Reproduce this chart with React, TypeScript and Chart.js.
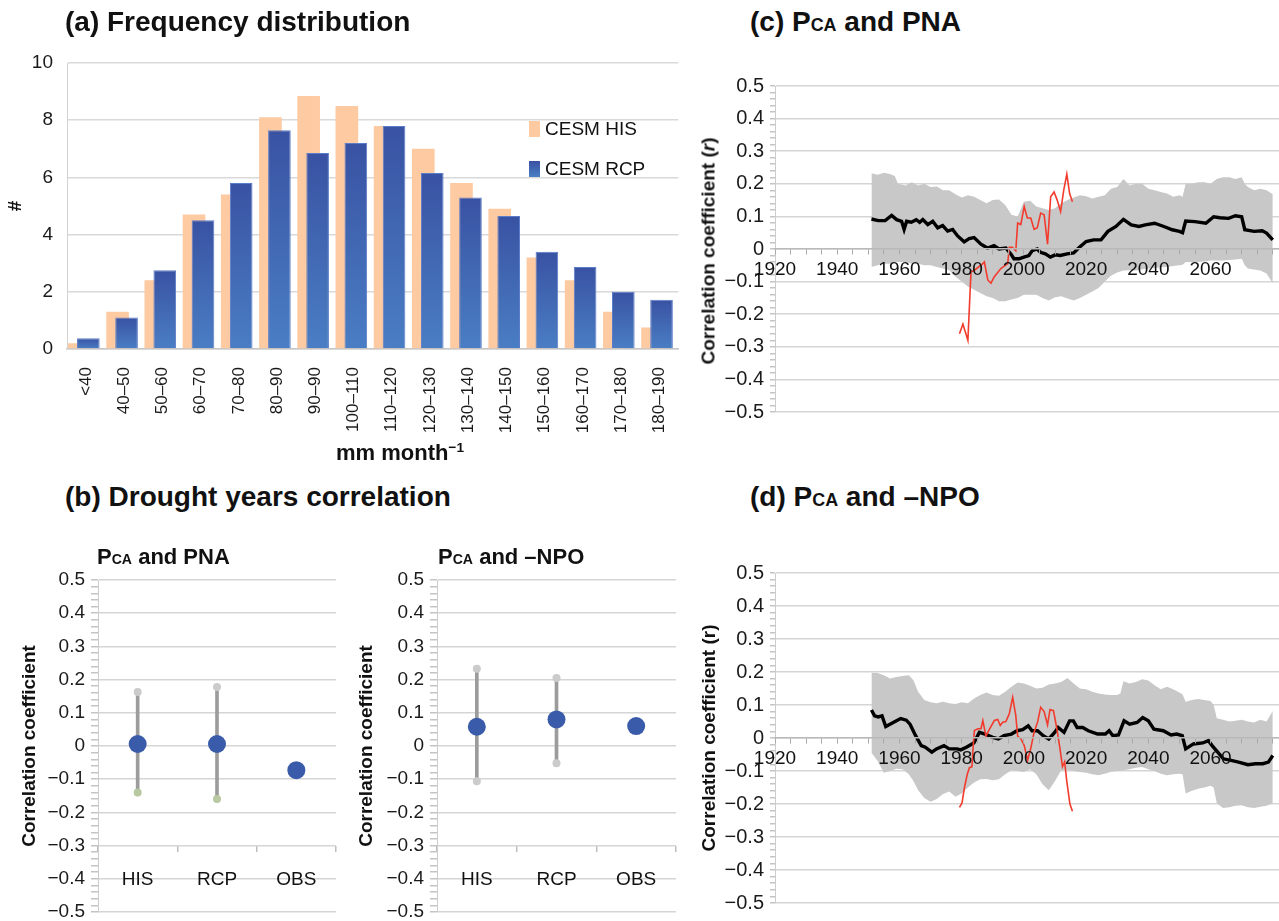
import React, { useEffect, useRef } from 'react';
import { Chart, registerables } from 'chart.js';

Chart.register(...registerables);

const FONT = '"Liberation Sans", Arimo, Arial, Helvetica, sans-serif';
Chart.defaults.font.family = FONT;
Chart.defaults.color = '#1a1a1a';

// ---------------- (a) Frequency distribution ----------------
const binLabels = ['<40', '40–50', '50–60', '60–70', '70–80', '80–90', '90–90', '100–110', '110–120', '120–130', '130–140', '140–150', '150–160', '160–170', '170–180', '180–190'];
const hisCounts = [0.2, 1.3, 2.4, 4.7, 5.4, 8.1, 8.85, 8.5, 7.8, 7.0, 5.8, 4.9, 3.2, 2.4, 1.3, 0.75];
const rcpCounts = [0.38, 1.1, 2.75, 4.5, 5.8, 7.65, 6.85, 7.2, 7.8, 6.15, 5.3, 4.65, 3.4, 2.87, 2.0, 1.72];

// ---------------- (b) Drought years correlation ----------------
const groupLabels = ['HIS', 'RCP', 'OBS'];
const pnaMean = [0.006, 0.006, -0.073];
const pnaRange = [[-0.15, 0.165], [-0.16, 0.178], null];
const pnaTopDot = [0.163, 0.178, null];
const pnaLowDot = [-0.14, -0.16, null];
const npoMean = [0.058, 0.08, 0.06];
const npoRange = [[-0.11, 0.236], [-0.052, 0.205], null];
const npoTopDot = [0.233, 0.205, null];
const npoLowDot = [-0.106, -0.052, 0.072];

// ---------------- (c) PCA and PNA ----------------
const cMeanYears = [1951, 1953.2, 1955.4, 1957.5, 1959.1, 1960.7, 1961.5, 1962.3, 1963.8, 1965.4, 1966.5, 1967.5, 1969.1, 1970.7, 1972.3, 1973.9, 1975.5, 1977.1, 1978.7, 1980.8, 1982.4, 1984, 1986.2, 1988.3, 1990.4, 1992, 1994.2, 1995.8, 1996.8, 1998.4, 2000, 2001.6, 2002.7, 2004.3, 2005.3, 2006.9, 2008.5, 2010.1, 2011.7, 2013.9, 2016, 2017.6, 2020, 2022.4, 2024.8, 2027, 2029.6, 2032, 2034.5, 2037, 2039, 2042, 2045, 2047.7, 2050, 2051, 2052, 2055, 2058.5, 2061, 2063, 2065.8, 2068, 2070, 2071, 2074, 2076.6, 2078, 2080];
const cMean = [0.092, 0.087, 0.087, 0.103, 0.09, 0.085, 0.06, 0.085, 0.082, 0.09, 0.082, 0.09, 0.075, 0.085, 0.065, 0.072, 0.055, 0.06, 0.04, 0.022, 0.032, 0.035, 0.015, 0.003, 0.01, 0, 0.003, -0.015, -0.03, -0.03, -0.025, -0.02, -0.005, 0, -0.01, -0.015, -0.025, -0.018, -0.02, -0.015, -0.012, 0.003, 0.023, 0.028, 0.028, 0.054, 0.069, 0.091, 0.074, 0.069, 0.074, 0.079, 0.069, 0.059, 0.054, 0.05, 0.086, 0.084, 0.079, 0.099, 0.096, 0.094, 0.102, 0.099, 0.059, 0.054, 0.056, 0.049, 0.028];
const cBandYears = [1951, 1953, 1955, 1957, 1958.5, 1959.5, 1962, 1964, 1966, 1968, 1970, 1972, 1974, 1976, 1978, 1980, 1982, 1984, 1986, 1988, 1990, 1992, 1994, 1996, 1998, 2000, 2002, 2004, 2006, 2008, 2010, 2012, 2014, 2016, 2018, 2020, 2022, 2024, 2026, 2028, 2030, 2032, 2034, 2036, 2038, 2040, 2042, 2044, 2046, 2048, 2050, 2051, 2052, 2054, 2056, 2058, 2060, 2062, 2064, 2066, 2068, 2070, 2071, 2072, 2074, 2076, 2078, 2080];
const cUpper = [0.232, 0.228, 0.234, 0.23, 0.224, 0.2, 0.195, 0.205, 0.195, 0.2, 0.19, 0.192, 0.18, 0.18, 0.168, 0.158, 0.165, 0.16, 0.15, 0.14, 0.15, 0.152, 0.135, 0.105, 0.1, 0.145, 0.148, 0.13, 0.125, 0.12, 0.125, 0.14, 0.15, 0.158, 0.165, 0.162, 0.155, 0.16, 0.165, 0.185, 0.19, 0.215, 0.195, 0.2, 0.2, 0.185, 0.18, 0.175, 0.17, 0.16, 0.165, 0.16, 0.2, 0.2, 0.205, 0.205, 0.2, 0.215, 0.22, 0.22, 0.215, 0.22, 0.2, 0.19, 0.18, 0.185, 0.18, 0.168];
const cLower = [-0.055, -0.05, -0.045, -0.045, -0.04, -0.04, -0.04, -0.045, -0.045, -0.05, -0.05, -0.055, -0.06, -0.065, -0.085, -0.1, -0.115, -0.125, -0.135, -0.145, -0.15, -0.16, -0.16, -0.155, -0.15, -0.14, -0.14, -0.14, -0.15, -0.158, -0.148, -0.145, -0.152, -0.158, -0.15, -0.14, -0.13, -0.12, -0.1, -0.082, -0.072, -0.066, -0.065, -0.066, -0.062, -0.06, -0.058, -0.056, -0.055, -0.052, -0.05, -0.048, -0.04, -0.04, -0.04, -0.038, -0.035, -0.035, -0.035, -0.034, -0.032, -0.03, -0.05, -0.06, -0.063, -0.066, -0.075, -0.105];
const cObsYears = [1979.3, 1980.4, 1982, 1983, 1984.1, 1986.8, 1987.3, 1988.4, 1989.4, 1990.5, 1992.6, 1994.8, 1995.3, 1996.3, 1997.4, 1998, 1999, 2000.1, 2001.1, 2002.2, 2003.3, 2004.3, 2005.4, 2006.5, 2007.6, 2008.6, 2009.7, 2010.7, 2011.8, 2012.8, 2013.8, 2014.7, 2015.6];
const cObs = [-0.26, -0.23, -0.28, -0.07, -0.065, -0.045, -0.04, -0.095, -0.105, -0.085, -0.06, -0.045, 0.005, 0.005, -0.005, 0.08, 0.075, 0.13, 0.095, 0.095, 0.06, 0.065, 0.11, 0.105, 0.015, 0.16, 0.175, 0.15, 0.115, 0.18, 0.23, 0.17, 0.145];

// ---------------- (d) PCA and -NPO ----------------
const dMeanYears = [1951, 1952, 1953.2, 1954.4, 1955.6, 1958, 1960.4, 1962.2, 1963.4, 1965.2, 1967, 1968.3, 1970.4, 1971.9, 1974.3, 1976, 1978.5, 1979.7, 1981.5, 1983.9, 1985.7, 1987.5, 1990, 1991.8, 1993.6, 1996, 1997.8, 1999.6, 2001.4, 2002.6, 2004.4, 2006.2, 2008, 2009.9, 2011, 2012.9, 2014.7, 2015.9, 2017.1, 2018.9, 2020.7, 2023.7, 2026.2, 2027.4, 2028.6, 2030.4, 2032.2, 2034, 2036.4, 2038.2, 2040, 2041.8, 2044.8, 2047.3, 2049.1, 2050.9, 2052, 2054.5, 2057.5, 2059.3, 2060.5, 2062.3, 2064.1, 2066.6, 2069, 2072, 2074.4, 2076.8, 2078.6, 2080];
const dMean = [0.085, 0.067, 0.064, 0.067, 0.035, 0.047, 0.059, 0.054, 0.042, 0.007, -0.023, -0.028, -0.043, -0.033, -0.023, -0.033, -0.033, -0.036, -0.028, -0.015, 0.017, 0.012, 0.002, -0.003, 0.007, 0.012, 0.022, 0.025, 0.037, 0.022, 0.022, 0.007, -0.003, 0.017, 0.032, 0.017, 0.052, 0.052, 0.032, 0.032, 0.022, 0.012, 0.012, 0.022, 0.007, 0.009, 0.052, 0.042, 0.047, 0.062, 0.052, 0.027, 0.022, 0.009, 0.012, 0.007, -0.033, -0.018, -0.015, -0.008, -0.023, -0.043, -0.063, -0.068, -0.073, -0.081, -0.078, -0.078, -0.073, -0.053];
const dBandYears = [1951, 1953, 1955, 1957, 1959, 1961, 1963, 1964.5, 1966, 1968, 1970, 1972, 1974, 1976, 1978, 1980, 1982, 1984, 1986, 1988, 1990, 1992, 1994, 1996, 1998, 2000, 2002, 2004, 2006, 2008, 2010, 2012, 2014, 2016, 2018, 2020, 2022, 2024, 2026, 2028, 2030, 2031, 2032, 2034, 2036, 2038, 2040, 2042, 2044, 2046, 2048, 2050, 2051, 2052, 2054, 2056, 2058, 2060, 2061, 2062, 2064, 2066, 2068, 2070, 2072, 2074, 2076, 2078, 2080];
const dUpper = [0.198, 0.197, 0.19, 0.18, 0.185, 0.188, 0.19, 0.175, 0.14, 0.115, 0.108, 0.105, 0.11, 0.105, 0.103, 0.108, 0.105, 0.12, 0.13, 0.138, 0.13, 0.128, 0.14, 0.155, 0.168, 0.165, 0.158, 0.15, 0.152, 0.162, 0.165, 0.17, 0.182, 0.165, 0.15, 0.148, 0.14, 0.135, 0.132, 0.13, 0.13, 0.135, 0.172, 0.165, 0.17, 0.178, 0.174, 0.16, 0.148, 0.155, 0.148, 0.138, 0.132, 0.11, 0.115, 0.118, 0.115, 0.112, 0.1, 0.06, 0.055, 0.05, 0.052, 0.055, 0.05, 0.047, 0.055, 0.05, 0.082];
const dLower = [-0.045, -0.07, -0.105, -0.1, -0.093, -0.095, -0.11, -0.13, -0.158, -0.182, -0.193, -0.185, -0.17, -0.162, -0.178, -0.168, -0.15, -0.135, -0.125, -0.124, -0.128, -0.125, -0.11, -0.098, -0.1, -0.103, -0.095, -0.11, -0.14, -0.158, -0.13, -0.098, -0.096, -0.1, -0.103, -0.105, -0.11, -0.113, -0.108, -0.102, -0.1, -0.1, -0.098, -0.095, -0.09, -0.088, -0.095, -0.1, -0.108, -0.113, -0.11, -0.108, -0.11, -0.168, -0.16, -0.154, -0.15, -0.145, -0.15, -0.198, -0.212, -0.21, -0.205, -0.204, -0.21, -0.212, -0.208, -0.205, -0.198];
const dObsYears = [1979.3, 1980.1, 1980.9, 1981.8, 1982.5, 1983.3, 1983.8, 1984.1, 1985.2, 1986.2, 1986.8, 1987.8, 1988.9, 1990.5, 1991.6, 1992.4, 1993.2, 1994.2, 1995.3, 1996.4, 1997.4, 1998, 1999, 2000.1, 2001.2, 2002.2, 2003.3, 2004.4, 2005.4, 2006.5, 2007.6, 2008.4, 2009.5, 2010.6, 2011.6, 2012.4, 2013.1, 2013.8, 2014.8, 2015.6];
const dObs = [-0.21, -0.197, -0.15, -0.11, -0.09, -0.087, -0.012, 0.023, 0.028, 0.028, 0.053, 0.006, 0.026, 0.053, 0.056, 0.038, 0.048, 0.05, 0.073, 0.123, 0.068, 0.006, -0.002, -0.022, -0.067, -0.032, 0.018, 0.048, 0.093, 0.08, 0.04, 0.086, 0.083, 0.028, -0.032, -0.087, -0.072, -0.132, -0.2, -0.222];

// ---------------- helpers ----------------
const isTenth = (v: number) => Math.abs(v * 10 - Math.round(v * 10)) < 1e-6;
const corrLabel = (v: number) => {
  if (!isTenth(v)) return '';
  const r = Math.round(v * 10);
  if (r === 0) return '0';
  const s = (Math.abs(r) / 10).toFixed(1);
  return r < 0 ? '\u2212' + s : s;
};
const xy = (xs: number[], ys: number[]) => xs.map((x, i) => ({ x, y: ys[i] }));

function corrY(width: number, tickLen: number, pad: number, size: number, title: string | null, titlePad: number) {
  return {
    min: -0.5,
    max: 0.5,
    afterFit: (s: any) => { s.width = width; },
    border: { color: '#cdcdcd', width: 1 },
    grid: {
      color: (c: any) => (c.tick && isTenth(c.tick.value) ? '#d5d5d5' : 'rgba(0,0,0,0)'),
      lineWidth: 1.5,
      tickColor: '#c4c4c4',
      tickLength: tickLen,
    },
    ticks: { stepSize: 0.02, autoSkip: false, padding: pad, font: { size }, color: '#1a1a1a', callback: (v: any) => corrLabel(Number(v)) },
    title: title
      ? { display: true, text: title, font: { size: 19, weight: 'bold' }, color: '#111', padding: { top: titlePad, bottom: 0 } }
      : { display: false },
  };
}

function ChartCanvas(props: { left: number; top: number; width: number; height: number; make: () => any }) {
  const ref = useRef<HTMLCanvasElement>(null);
  useEffect(() => {
    const chart = new Chart(ref.current as HTMLCanvasElement, props.make());
    return () => chart.destroy();
  }, []);
  return (
    <canvas
      ref={ref}
      width={props.width}
      height={props.height}
      style={{ position: 'absolute', left: props.left, top: props.top, width: props.width, height: props.height, display: 'block' }}
    />
  );
}

// ---------------- chart configs ----------------
function freqConfig() {
  const nulls = binLabels.map(() => null);
  const barShape = { categoryPercentage: 0.47, barPercentage: 5.04 };
  const rcpFill = (c: any) => {
    const chart = c.chart;
    const y = chart.scales && chart.scales.y;
    if (c.type !== 'data' || !y || c.raw == null) return '#3d5fae';
    const top = y.getPixelForValue(c.raw);
    const base = y.getPixelForValue(0);
    if (!isFinite(top) || !isFinite(base) || base - top < 1) return '#3d5fae';
    const g = chart.ctx.createLinearGradient(0, top, 0, base);
    g.addColorStop(0, '#3952a3');
    g.addColorStop(1, '#4a7ec4');
    return g;
  };
  return {
    type: 'bar',
    data: {
      labels: binLabels,
      datasets: [
        { label: 'CESM HIS', data: hisCounts, xAxisID: 'x', order: 2, backgroundColor: '#fdcaa2', borderWidth: 0, ...barShape },
        { label: 'gap1', data: nulls, xAxisID: 'x', order: 3, backgroundColor: 'rgba(0,0,0,0)', ...barShape },
        { label: 'gap2', data: nulls, xAxisID: 'x2', order: 0, backgroundColor: 'rgba(0,0,0,0)', ...barShape },
        { label: 'CESM RCP', data: rcpCounts, xAxisID: 'x2', order: 1, backgroundColor: rcpFill, borderColor: '#5b7cc8', borderWidth: 1, ...barShape },
      ],
    },
    options: {
      animation: false,
      responsive: false,
      devicePixelRatio: 1,
      layout: { padding: { top: 63, right: 10, bottom: 0, left: 0 } },
      plugins: { legend: { display: false }, tooltip: { enabled: false } },
      scales: {
        x: {
          type: 'category',
          offset: true,
          grid: { display: false },
          border: { display: true, color: '#c6c6c6', width: 1.5 },
          ticks: { autoSkip: false, minRotation: 90, maxRotation: 90, padding: 10, font: { size: 17 }, color: '#1a1a1a' },
          afterFit: (s: any) => { s.height = 131; },
        },
        x2: { type: 'category', display: false, offset: true, grid: { display: false } },
        y: {
          min: 0,
          max: 10,
          ticks: { stepSize: 2, padding: 14, font: { size: 19 }, color: '#1a1a1a' },
          grid: { color: '#d9d9d9', lineWidth: 1.5, drawTicks: false },
          border: { color: '#d2d2d2' },
          afterFit: (s: any) => { s.width = 67; },
          title: { display: true, text: '#', font: { size: 19, weight: 'bold' }, color: '#111', padding: { top: 4, bottom: 0 } },
        },
      },
    },
  };
}

function dotConfig(mean: number[], range: any[], topDot: any[], lowDot: any[], lowColors: string[], yWidth: number, titlePad: number, rightPad: number) {
  return {
    type: 'bar',
    data: {
      labels: groupLabels,
      datasets: [
        { type: 'line', data: mean, showLine: false, pointRadius: 9, pointBackgroundColor: '#3a5ba9', pointBorderColor: '#3a5ba9', pointBorderWidth: 0 },
        { type: 'line', data: topDot, showLine: false, pointRadius: 4, pointBackgroundColor: '#cbcbcb', pointBorderColor: '#cbcbcb', pointBorderWidth: 0 },
        { type: 'line', data: lowDot, showLine: false, pointRadius: 4, pointBackgroundColor: lowColors, pointBorderColor: lowColors, pointBorderWidth: 0 },
        { type: 'bar', data: range, backgroundColor: '#9c9c9c', barThickness: 3, borderWidth: 0 },
      ],
    },
    options: {
      animation: false,
      responsive: false,
      devicePixelRatio: 1,
      layout: { padding: { top: 20, right: rightPad, bottom: 18, left: 0 } },
      plugins: { legend: { display: false }, tooltip: { enabled: false } },
      scales: {
        x: {
          type: 'category',
          offset: true,
          position: { y: -0.3 },
          grid: { offset: true, drawOnChartArea: false, tickLength: 6, color: '#bdbdbd', lineWidth: 1.5 },
          border: { display: false },
          ticks: { padding: 17, font: { size: 19 }, color: '#111' },
        },
        y: corrY(yWidth, 7, 6, 19, 'Correlation coefficient', titlePad),
      },
    },
  };
}

function corrConfig(obsX: number[], obs: number[], meanX: number[], mean: number[], bandX: number[], upper: number[], lower: number[], padTop: number, padBottom: number, htmlTitle: boolean) {
  return {
    type: 'line',
    data: {
      datasets: [
        { data: xy(obsX, obs), borderColor: '#f23b2c', borderWidth: 1.6, pointRadius: 0, fill: false, tension: 0 },
        { data: xy(meanX, mean), borderColor: '#000000', borderWidth: 3.4, pointRadius: 0, fill: false, tension: 0 },
        { data: xy(bandX, upper), borderColor: 'rgba(0,0,0,0)', borderWidth: 0, backgroundColor: '#c8c8c8', pointRadius: 0, fill: '+1', tension: 0 },
        { data: xy(bandX, lower), borderColor: 'rgba(0,0,0,0)', borderWidth: 0, pointRadius: 0, fill: false, tension: 0 },
      ],
    },
    options: {
      animation: false,
      responsive: false,
      devicePixelRatio: 1,
      layout: { padding: { top: padTop, right: 0, bottom: padBottom, left: 0 } },
      plugins: { legend: { display: false }, tooltip: { enabled: false } },
      scales: {
        x: {
          type: 'linear',
          min: 1920,
          max: 2082,
          position: { y: 0 },
          grid: { drawOnChartArea: false, tickLength: 5, color: '#a9a9a9', lineWidth: 1, z: 1 },
          border: { color: '#b9b9b9', width: 1.5, z: 1 },
          ticks: {
            stepSize: 5,
            includeBounds: false,
            autoSkip: false,
            maxRotation: 0,
            minRotation: 0,
            padding: 4,
            z: 1,
            font: { size: 19 },
            color: '#111',
            callback: (v: any) => (Number(v) % 20 === 0 && Number(v) < 2080 ? String(v) : ''),
          },
        },
        y: corrY(85, 5, 6, 20, htmlTitle ? null : 'Correlation coefficient (r)', 8),
      },
    },
  };
}

// ---------------- text helpers ----------------
const Sc = (p: { children: any }) => <span style={{ fontSize: '0.64em' }}>{p.children}</span>;
const Title = (p: { left: number; top: number; size?: number; children: any }) => (
  <div style={{ position: 'absolute', left: p.left, top: p.top, fontSize: p.size || 28, fontWeight: 'bold', lineHeight: 1, whiteSpace: 'nowrap', color: '#111' }}>
    {p.children}
  </div>
);

export default function App() {
  return (
    <div style={{ position: 'absolute', left: 0, top: 0, width: 1279, height: 921, overflow: 'hidden', background: '#ffffff', fontFamily: FONT, color: '#111' }}>
      <ChartCanvas left={0} top={0} width={690} height={480} make={freqConfig} />
      <ChartCanvas left={0} top={560} width={345} height={370}
        make={() => dotConfig(pnaMean, pnaRange, pnaTopDot, pnaLowDot, ['#b8c8a0', '#b8c8a0', '#b8c8a0'], 98, 18, 7)} />
      <ChartCanvas left={345} top={560} width={340} height={370}
        make={() => dotConfig(npoMean, npoRange, npoTopDot, npoLowDot, ['#cbcbcb', '#cbcbcb', '#a9c48a'], 92, 10, 6)} />
      <ChartCanvas left={690} top={60} width={589} height={370}
        make={() => corrConfig(cObsYears, cObs, cMeanYears, cMean, cBandYears, cUpper, cLower, 26, 14, true)} />
      <ChartCanvas left={690} top={550} width={589} height={371}
        make={() => corrConfig(dObsYears, dObs, dMeanYears, dMean, dBandYears, dUpper, dLower, 23, 16, false)} />

      <Title left={65} top={8}>(a) Frequency distribution</Title>
      <Title left={65} top={483}>(b) Drought years correlation</Title>
      <Title left={750} top={8}>(c) P<Sc>CA</Sc> and PNA</Title>
      <Title left={750} top={483}>(d) P<Sc>CA</Sc> and –NPO</Title>
      <Title left={97} top={546} size={22}>P<Sc>CA</Sc> and PNA</Title>
      <Title left={438} top={546} size={22}>P<Sc>CA</Sc> and –NPO</Title>

      <div style={{ position: 'absolute', left: 529, top: 121, width: 11, height: 16, background: '#fdcaa2' }} />
      <div style={{ position: 'absolute', left: 545, top: 118, fontSize: 19, lineHeight: '22px', whiteSpace: 'nowrap' }}>CESM HIS</div>
      <div style={{ position: 'absolute', left: 529, top: 161, width: 11, height: 16, background: 'linear-gradient(#3952a3, #4a7ec4)' }} />
      <div style={{ position: 'absolute', left: 545, top: 158, fontSize: 19, lineHeight: '22px', whiteSpace: 'nowrap' }}>CESM RCP</div>

      <div style={{ position: 'absolute', left: 336, top: 442, fontSize: 22, fontWeight: 'bold', lineHeight: 1, whiteSpace: 'nowrap' }}>
        mm month<span style={{ fontSize: '0.62em', position: 'relative', top: '-0.6em' }}>−1</span>
      </div>

      <div style={{ position: 'absolute', left: 708, top: 251, transform: 'translate(-50%, -50%) rotate(-90deg)', fontSize: 19, fontWeight: 'bold', lineHeight: 1, whiteSpace: 'nowrap' }}>
        Correlation coefficient (<i>r</i>)
      </div>
    </div>
  );
}
